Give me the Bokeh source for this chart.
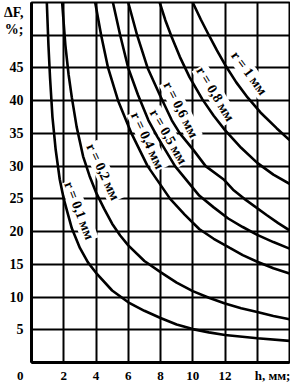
import numpy as np
from bokeh.plotting import figure
from bokeh.models import Range1d, FixedTicker, ColumnDataSource
from bokeh.embed import file_html
from bokeh.resources import INLINE
from bokeh.core.properties import value

# ---- data (h, mm  ->  dF, %) ----
h_r01 = [0.95, 1.05, 1.15, 1.3, 1.5, 1.75, 2.0, 2.5, 3.0, 3.5, 4.0, 5.0, 6.0, 7.0, 8.0, 9.0, 10.0, 11.0, 12.0, 14.0, 16.0]
df_r01 = [55, 48.5, 43.5, 37.5, 32.5, 28, 25, 20.5, 17.5, 15.3, 13.7, 11.0, 9.2, 7.9, 6.8, 5.8, 5.1, 4.6, 4.2, 3.7, 3.3]

h_r02 = [1.9, 2.1, 2.3, 2.5, 2.8, 3.2, 3.6, 4.0, 4.5, 5.0, 5.5, 6.0, 7.0, 8.0, 9.0, 10.0, 11.0, 12.0, 13.0, 14.0, 15.0, 16.0]
df_r02 = [55, 48.5, 44, 40.5, 36, 31.5, 28.5, 26, 23.5, 21.2, 19.4, 17.9, 15.5, 13.8, 12.2, 10.9, 9.9, 9.0, 8.3, 7.7, 7.1, 6.6]

h_r04 = [3.95, 4.32, 4.75, 5.37, 6.2, 7.2, 8.6, 9.5, 10.4, 11.3, 12.3, 13.1, 14.0, 15.0, 16.0]
df_r04 = [55, 50, 45, 40, 35, 30, 25, 22.6, 20.4, 18.9, 17.5, 16.4, 15.4, 14.4, 13.6]

h_r05 = [5.05, 5.5, 6.0, 6.6, 7.25, 7.8, 8.9, 10.4, 11.3, 12.2, 13.1, 14.0, 15.0, 16.0]
df_r05 = [55, 50, 45, 40.9, 37, 34.5, 30, 25.5, 23.7, 22, 20.7, 19.5, 18.4, 17.4]

h_r06 = [6.0, 6.55, 7.2, 7.95, 8.7, 9.2, 10.0, 10.8, 11.9, 12.5, 13.2, 14.6, 15.3, 16.0]
df_r06 = [55, 50, 45, 40.9, 37, 35, 32.6, 30, 28, 26.4, 25, 22.5, 21.3, 20.2]

h_r08 = [7.95, 8.3, 8.7, 9.2, 9.8, 10.6, 11.3, 12.0, 13.0, 14.0, 15.0, 16.0]
df_r08 = [55, 52.3, 49.7, 46.7, 43.6, 40.2, 37.7, 35.5, 32.8, 30.5, 28.7, 27.3]

h_r1 = [10.0, 10.5, 11.0, 11.5, 12.0, 12.7, 13.4, 14.2, 15.2, 16.0]
df_r1 = [55, 52.4, 50, 47.7, 45.5, 42.8, 40.5, 38.2, 35.8, 34.0]

curve_names = ["r = 0,1 мм", "r = 0,2 мм", "r = 0,4 мм", "r = 0,5 мм",
               "r = 0,6 мм", "r = 0,8 мм", "r = 1 мм"]
grid_x = [0, 2, 4, 6, 8, 10, 12, 14, 16]
grid_y = [0, 5, 10, 15, 20, 25, 30, 35, 40, 45, 50, 55]
x_tick_labels = {2: "2", 4: "4", 6: "6", 8: "8", 10: "10", 12: "12"}
y_tick_labels = {5: "5", 10: "10", 15: "15", 20: "20", 25: "25",
                 30: "30", 35: "35", 40: "40", 45: "45"}
x_title = "h, мм;"
y_title_1 = "ΔF,"
y_title_2 = "%;"
origin_label = "0"

# label placement (annotation positions, not data)
lab_x = [2.96, 4.44, 7.2, 8.5, 9.26, 11.4, 13.5]
lab_y = [23.2, 29.1, 33.9, 34.5, 38.6, 41.0, 44.2]
lab_ang = [-69, -65, -65, -60, -63, -59, -53.5]
x_title_pos = 14.95
y_title_pos = (53.5, 50.9)

FONT = "Liberation Serif"
NBSP = "\u00a0"

p = figure(width=290, height=385, output_backend="svg", toolbar_location=None,
           x_range=Range1d(0, 16), y_range=Range1d(0, 55),
           min_border_left=31, min_border_right=1, min_border_top=2,
           min_border_bottom=20)
p.background_fill_color = "white"
p.border_fill_color = "white"
p.outline_line_color = "black"
p.outline_line_width = 2

xt = [0] + list(x_tick_labels.keys()) + [x_title_pos]
yt = list(y_tick_labels.keys()) + list(y_title_pos)
x_over = {k: v for k, v in x_tick_labels.items()}
x_over[0] = origin_label + NBSP * 7
x_over[x_title_pos] = x_title
y_over = {k: v for k, v in y_tick_labels.items()}
y_over[y_title_pos[0]] = y_title_1
y_over[y_title_pos[1]] = y_title_2

p.xaxis.ticker = FixedTicker(ticks=xt)
p.yaxis.ticker = FixedTicker(ticks=yt)
p.xaxis.major_label_overrides = x_over
p.yaxis.major_label_overrides = y_over
for ax in (p.xaxis, p.yaxis):
    ax.axis_line_width = 3
    ax.axis_line_color = "black"
    ax.major_tick_out = 0
    ax.major_tick_in = 0
    ax.minor_tick_out = 0
    ax.minor_tick_in = 0
    ax.major_label_text_font = FONT
    ax.major_label_text_font_style = "bold"
    ax.major_label_text_font_size = "14px"
    ax.major_label_text_color = "black"
p.xaxis.major_label_text_font_size = "13px"
p.xaxis.major_label_standoff = 5
p.yaxis.major_label_standoff = 8

for g in (p.xgrid, p.ygrid):
    g.grid_line_color = "black"
    g.grid_line_width = 2
    g.grid_line_alpha = 1.0
p.xgrid.ticker = FixedTicker(ticks=grid_x)
p.ygrid.ticker = FixedTicker(ticks=grid_y)

# curve labels (white background breaks the grid lines)
src_lab = ColumnDataSource(dict(x=lab_x, y=lab_y, t=curve_names, a=lab_ang))
p.text(x="x", y="y", text="t", angle="a", angle_units="deg", source=src_lab,
       text_font=value(FONT), text_font_style="bold", text_font_size="14px",
       text_align="center", text_baseline="middle", text_color="black",
       background_fill_color="white", padding=1)

curves = [(h_r01, df_r01), (h_r02, df_r02), (h_r04, df_r04), (h_r05, df_r05),
          (h_r06, df_r06), (h_r08, df_r08), (h_r1, df_r1)]
for hh, dd in curves:
    p.line(hh, dd, line_color="black", line_width=2.6)

open("out.html", "w").write(file_html(p, INLINE))
